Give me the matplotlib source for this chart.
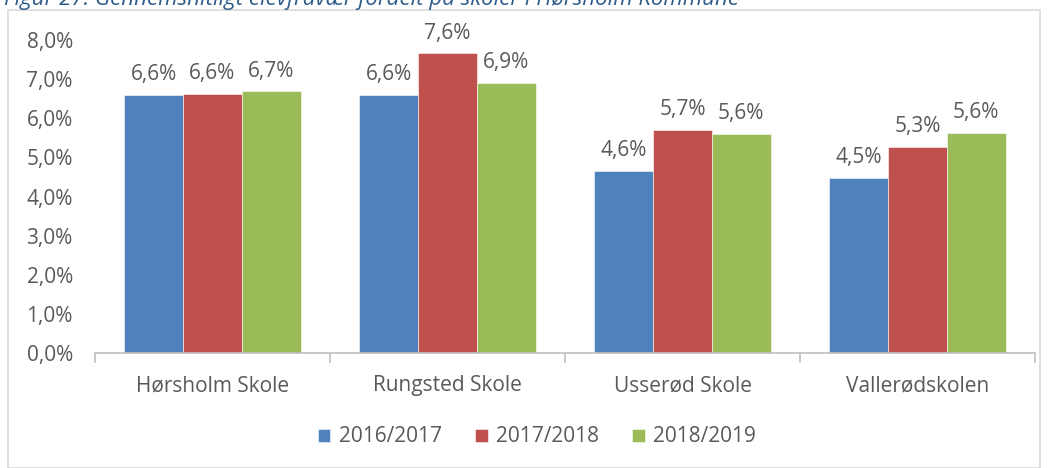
import matplotlib

matplotlib.use("Agg")
import matplotlib.pyplot as plt
import numpy as np
from matplotlib.patches import Rectangle
from matplotlib.ticker import FuncFormatter

schools = ["Hørsholm Skole", "Rungsted Skole", "Usserød Skole", "Vallerødskolen"]
years = ["2016/2017", "2017/2018", "2018/2019"]
v1617 = [6.60, 6.60, 4.65, 4.47]
v1718 = [6.62, 7.66, 5.70, 5.27]
v1819 = [6.69, 6.90, 5.60, 5.62]
shown = [["6,6%", "6,6%", "4,6%", "4,5%"],
         ["6,6%", "7,6%", "5,7%", "5,3%"],
         ["6,7%", "6,9%", "5,6%", "5,6%"]]

colors = ["#4F81BD", "#C0504D", "#9BBB59"]
grey = "#595959"
fs = 15
plt.rcParams["font.family"] = ["Open Sans", "DejaVu Sans"]

fig = plt.figure(figsize=(10.48, 4.68), dpi=100)
fig.patches.append(Rectangle((8 / 1048, 0), 1032 / 1048, 1 - 10 / 468,
                             transform=fig.transFigure, fill=False,
                             edgecolor="#D9D9D9", lw=1.2))
fig.text(4 / 1048, 1 - 5 / 468, "Figur 27: Gennemsnitligt elevfravær fordelt på skoler i Hørsholm Kommune",
         ha="left", va="baseline", fontsize=16, style="italic", color="#2E5C8A")

ax = fig.add_axes([95 / 1048, 1 - 353 / 468, 940 / 1048, 313 / 468])
x = np.arange(len(schools))
w = 0.25
for i, (vals, lab, col) in enumerate(zip([v1617, v1718, v1819], years, colors)):
    bars = ax.bar(x + (i - 1) * w, vals, w, color=col, label=lab, edgecolor="white", linewidth=0.4)
    for b, txt in zip(bars, shown[i]):
        ax.annotate(txt, (b.get_x() + b.get_width() / 2, b.get_height()),
                    textcoords="offset points", xytext=(0, 7), ha="center", va="bottom",
                    fontsize=fs, color=grey)

ax.set_xlim(-0.5, len(schools) - 0.5)
ax.set_ylim(0, 8)
ax.set_yticks(np.arange(0, 9, 1))
ax.yaxis.set_major_formatter(FuncFormatter(lambda v, p: f"{v:.1f}%".replace(".", ",")))
ax.set_xticks(x)
ax.set_xticklabels(schools)
ax.set_xticks(np.arange(-0.5, len(schools), 1), minor=True)
ax.tick_params(axis="x", which="major", length=0, pad=16, labelsize=fs, labelcolor=grey)
ax.tick_params(axis="x", which="minor", length=7, color="#BFBFBF", width=1.2)
ax.tick_params(axis="y", length=0, pad=16, labelsize=fs, labelcolor=grey)
for s in ["top", "right", "left"]:
    ax.spines[s].set_visible(False)
ax.spines["bottom"].set_color("#BFBFBF")
ax.spines["bottom"].set_linewidth(1.2)

fig.legend(loc="center", bbox_to_anchor=(537 / 1048, 1 - 437 / 468), ncol=3, frameon=False,
           fontsize=fs, labelcolor=grey, handlelength=0.6, handleheight=0.6,
           handletextpad=0.4, columnspacing=1.6)

fig.savefig("out.png", dpi=100)
